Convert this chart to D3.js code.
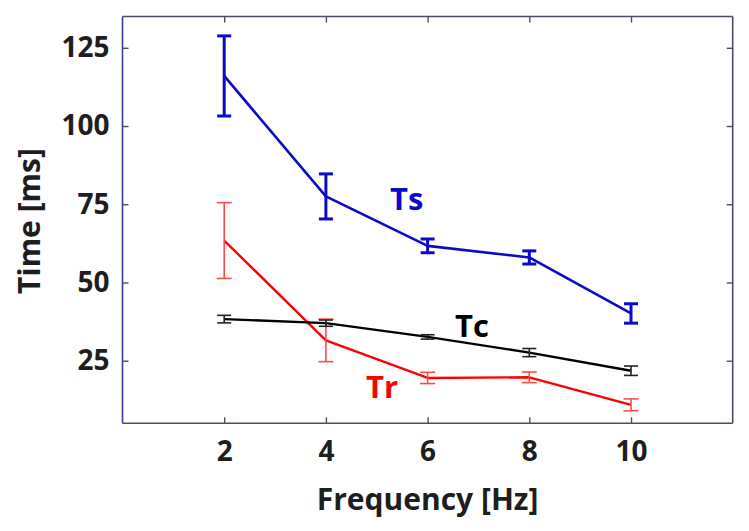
<!DOCTYPE html>
<html>
<head>
<meta charset="utf-8">
<script src="https://cdn.jsdelivr.net/npm/d3@7"></script>
<style>
  html, body { margin: 0; padding: 0; background: #fff; }
  svg { display: block; }
  text { font-family: "Open Sans", "Noto Sans", sans-serif; font-weight: bold; }
</style>
</head>
<body>
<svg id="chart" width="749" height="531"></svg>
<script>
// ---- data ----
const frequencies = [2, 4, 6, 8, 10];
const tsMean = [116.0, 77.5, 61.7, 58.0, 40.1];
const tsErr  = [12.8, 7.2, 2.2, 2.1, 3.1];
const trMean = [63.4, 31.5, 19.5, 19.7, 10.9];
const trErr  = [12.1, 6.8, 1.8, 1.7, 1.9];
const tcMean = [38.3, 37.0, 32.6, 27.6, 21.8];
const tcErr  = [1.2, 1.0, 0.7, 1.3, 1.5];
const xTicks = [2, 4, 6, 8, 10];
const yTicks = [25, 50, 75, 100, 125];
const seriesNames = ["Ts", "Tc", "Tr"];
const xLabel = "Frequency [Hz]";
const yLabel = "Time [ms]";

// ---- layout ----
const svg = d3.select("#chart");
const L = 122.5, R = 732.7, T = 16.5, B = 423.3;
const x = d3.scaleLinear().domain([0, 12]).range([L, R]);
const y = d3.scaleLinear().domain([5, 135]).range([B, T]);

const axisGray = "#4e4e62";
const axisBlue = "#3b3b9c";
const tickLen = 6;

// frame axes with inward ticks
const gBottom = svg.append("g").attr("transform", `translate(0,${B})`)
  .call(d3.axisBottom(x).tickValues(xTicks).tickSize(-tickLen).tickPadding(18).tickFormat(d3.format("d")));
const gTop = svg.append("g").attr("transform", `translate(0,${T})`)
  .call(d3.axisTop(x).tickValues(xTicks).tickSize(-tickLen).tickFormat(""));
const gLeft = svg.append("g").attr("transform", `translate(${L},0)`)
  .call(d3.axisLeft(y).tickValues(yTicks).tickSize(-tickLen).tickPadding(13).tickFormat(d3.format("d")));
const gRight = svg.append("g").attr("transform", `translate(${R},0)`)
  .call(d3.axisRight(y).tickValues(yTicks).tickSize(-tickLen).tickFormat(""));

[gBottom, gTop, gRight].forEach(g => {
  g.select(".domain").attr("stroke", axisGray).attr("stroke-width", 1.6);
  g.selectAll(".tick line").attr("stroke", axisGray).attr("stroke-width", 1.4);
});
gLeft.select(".domain").attr("stroke", axisBlue).attr("stroke-width", 1.6);
gLeft.selectAll(".tick line").attr("stroke", axisGray).attr("stroke-width", 1.4);
gBottom.select(".domain").attr("d", `M${L},0H${R}`);
gTop.select(".domain").attr("d", `M${L},0H${R}`);
gLeft.select(".domain").attr("d", `M0,${T}V${B}`);
gRight.select(".domain").attr("d", `M0,${T}V${B}`);

[gBottom, gLeft].forEach(g => g.selectAll(".tick text")
  .attr("font-size", 28).attr("fill", "#1e1e1e")
  .attr("font-family", "Open Sans").attr("font-weight", "bold"));

// axis titles
svg.append("text").attr("x", (L + R) / 2).attr("y", 510)
  .attr("text-anchor", "middle").attr("font-size", 30).attr("fill", "#1e1e1e").text(xLabel);
svg.append("text").attr("transform", `translate(40,221) rotate(-90)`)
  .attr("text-anchor", "middle").attr("font-size", 30).attr("fill", "#1e1e1e").text(yLabel);

// series
function drawSeries(means, errs, color, lw, errColor, errW, capW) {
  const pts = frequencies.map((f, i) => ({ f, m: means[i], e: errs[i] }));
  const g = svg.append("g");
  g.append("path").datum(pts)
    .attr("fill", "none").attr("stroke", color).attr("stroke-width", lw)
    .attr("stroke-linejoin", "round")
    .attr("d", d3.line().x(d => x(d.f)).y(d => y(d.m)));
  const eb = g.selectAll(".eb").data(pts).enter().append("g");
  eb.append("line").attr("x1", d => x(d.f)).attr("x2", d => x(d.f))
    .attr("y1", d => y(d.m - d.e)).attr("y2", d => y(d.m + d.e))
    .attr("stroke", errColor).attr("stroke-width", errW);
  eb.append("line").attr("x1", d => x(d.f) - capW / 2).attr("x2", d => x(d.f) + capW / 2)
    .attr("y1", d => y(d.m + d.e)).attr("y2", d => y(d.m + d.e))
    .attr("stroke", errColor).attr("stroke-width", errW);
  eb.append("line").attr("x1", d => x(d.f) - capW / 2).attr("x2", d => x(d.f) + capW / 2)
    .attr("y1", d => y(d.m - d.e)).attr("y2", d => y(d.m - d.e))
    .attr("stroke", errColor).attr("stroke-width", errW);
}

drawSeries(trMean, trErr, "#ff0000", 2.4, "#ff4a4a", 1.6, 15);
drawSeries(tcMean, tcErr, "#000000", 2.4, "#222222", 1.6, 14);
drawSeries(tsMean, tsErr, "#0a0ac8", 2.6, "#0a0ac8", 3, 14);

// series labels
svg.append("text").attr("x", x(5.26)).attr("y", y(73.2)).attr("font-size", 31)
  .attr("fill", "#0a0ac8").text(seriesNames[0]);
svg.append("text").attr("x", x(6.54)).attr("y", y(32.7)).attr("font-size", 31)
  .attr("fill", "#000").text(seriesNames[1]);
svg.append("text").attr("x", x(4.79)).attr("y", y(13.1)).attr("font-size", 31)
  .attr("fill", "#ff0000").text(seriesNames[2]);
</script>
</body>
</html>
